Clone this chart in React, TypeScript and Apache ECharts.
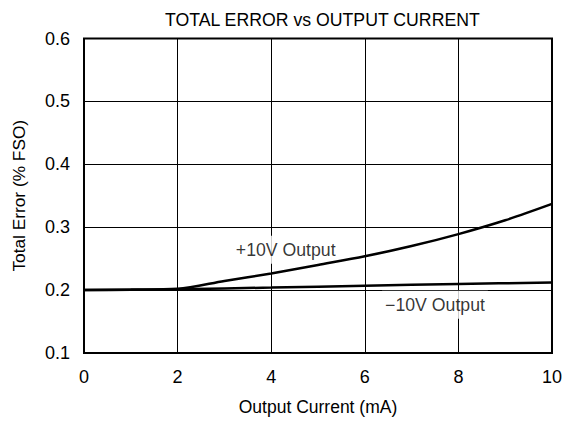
import React, { useEffect, useRef } from "react";
import * as echarts from "echarts";

const title = "TOTAL ERROR vs OUTPUT CURRENT";
const xName = "Output Current (mA)";
const yName = "Total Error (% FSO)";

const plusX = [0, 1, 2, 3, 4, 5, 6, 7, 8, 9, 10];
const plusY = [0.2, 0.2005, 0.202, 0.2145, 0.2265, 0.24, 0.2537, 0.27, 0.289, 0.311, 0.337];

const minusX = [0, 2, 4, 6, 8, 10];
const minusY = [0.2, 0.2015, 0.204, 0.207, 0.2097, 0.212];

const labelTexts = ["+10V Output", "\u221210V Output"];
const labelX = [4.31, 7.5];
const labelY = [0.264, 0.1768];

const FONT = "Liberation Sans, Arial, sans-serif";

export default function App() {
  const ref = useRef<HTMLDivElement>(null);
  useEffect(() => {
    if (!ref.current) return;
    const chart = echarts.init(ref.current, null, { renderer: "svg" });
    chart.setOption({
      animation: false,
      backgroundColor: "#fff",
      title: {
        text: title,
        left: 160,
        top: 6,
        textStyle: { fontFamily: FONT, fontSize: 17.7, fontWeight: "normal", color: "#000" },
      },
      grid: {
        left: 84,
        right: 10,
        top: 38.5,
        bottom: 64,
        show: true,
        borderColor: "#000",
        borderWidth: 2,
        backgroundColor: "transparent",
      },
      xAxis: {
        type: "value",
        min: 0,
        max: 10,
        interval: 2,
        name: xName,
        nameLocation: "middle",
        nameGap: 45,
        nameTextStyle: { fontFamily: FONT, fontSize: 17.5, color: "#000" },
        axisLine: { show: false },
        axisTick: { show: false },
        axisLabel: { fontFamily: FONT, fontSize: 18, color: "#000", margin: 15 },
        splitLine: { show: true, lineStyle: { color: "#000", width: 1 } },
      },
      yAxis: {
        type: "value",
        min: 0.1,
        max: 0.6,
        interval: 0.1,
        name: yName,
        nameLocation: "middle",
        nameGap: 57,
        nameTextStyle: { fontFamily: FONT, fontSize: 17.3, color: "#000" },
        axisLine: { show: false },
        axisTick: { show: false },
        axisLabel: {
          fontFamily: FONT,
          fontSize: 18,
          color: "#000",
          margin: 14,
          formatter: (v: number) => v.toFixed(1),
        },
        splitLine: { show: true, lineStyle: { color: "#000", width: 1 } },
      },
      series: [
        {
          type: "line",
          data: plusX.map((x, i) => [x, plusY[i]]),
          smooth: 0.3,
          showSymbol: false,
          lineStyle: { color: "#000", width: 2.5 },
          z: 3,
        },
        {
          type: "line",
          data: minusX.map((x, i) => [x, minusY[i]]),
          smooth: 0.3,
          showSymbol: false,
          lineStyle: { color: "#000", width: 2.5 },
          z: 3,
        },
        {
          type: "scatter",
          symbolSize: 0,
          silent: true,
          z: 2,
          data: labelTexts.map((t, i) => ({ value: [labelX[i], labelY[i]], name: t })),
          label: {
            show: true,
            position: "inside",
            formatter: (p: any) => p.name,
            fontFamily: FONT,
            fontSize: 17.7,
            color: "#000",
            backgroundColor: "#fff",
            padding: [5, 3],
          },
        },
      ],
    });
    return () => chart.dispose();
  }, []);
  return (
    <div
      ref={ref}
      style={{ position: "fixed", left: 0, top: 0, width: 565, height: 421, background: "#fff" }}
    />
  );
}
